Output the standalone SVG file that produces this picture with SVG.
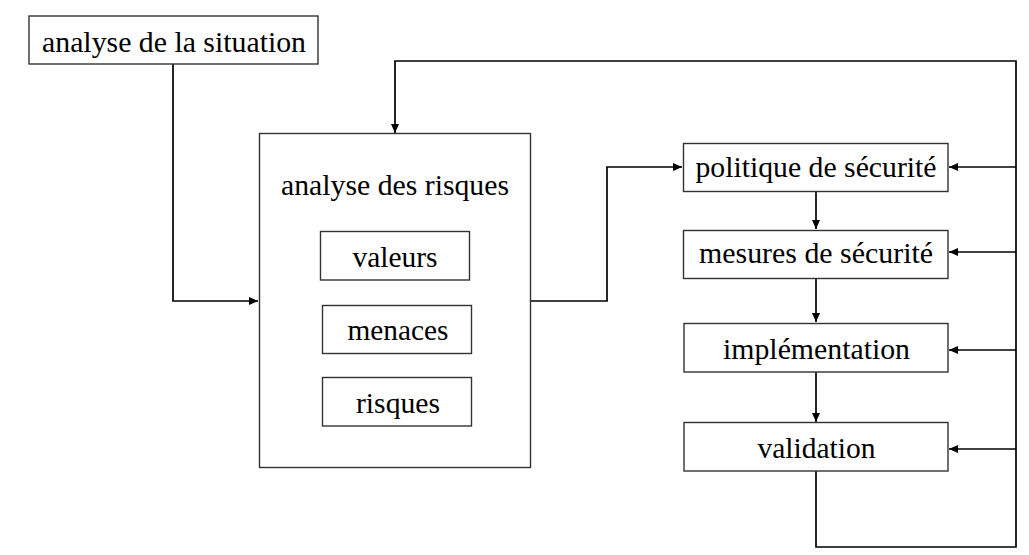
<svg xmlns="http://www.w3.org/2000/svg" width="1029" height="555" viewBox="0 0 1029 555">
<style>
.box{fill:#fff;stroke:#333;stroke-width:1.4}
.lbl{font-family:"Liberation Serif","Times New Roman",serif;font-size:30px;fill:#000;text-anchor:middle}
.con{fill:none;stroke:#000;stroke-width:1.7}
</style>
<defs>
<marker id="arr" markerUnits="userSpaceOnUse" markerWidth="9" markerHeight="8" refX="9" refY="4" orient="auto">
<path d="M0,0 L9,4 L0,8 z" fill="#000"/>
</marker>
</defs>
<rect width="1029" height="555" fill="#fff"/>
<g id="connectors">
<path class="con" d="M173,64 V301 H258" marker-end="url(#arr)"/>
<path class="con" d="M531,301 H607 V167 H682" marker-end="url(#arr)"/>
<path class="con" d="M816,191 V229" marker-end="url(#arr)"/>
<path class="con" d="M816,278 V322" marker-end="url(#arr)"/>
<path class="con" d="M816,372 V422" marker-end="url(#arr)"/>
<path class="con" d="M816,471 V547 H1016 V61 H395 V133" marker-end="url(#arr)"/>
<path class="con" d="M1016,167 H949" marker-end="url(#arr)"/>
<path class="con" d="M1016,252 H949" marker-end="url(#arr)"/>
<path class="con" d="M1016,350 H949" marker-end="url(#arr)"/>
<path class="con" d="M1016,449 H949" marker-end="url(#arr)"/>
</g>
<g id="situation">
<rect class="box" x="29" y="16" width="289" height="48"/>
<text class="lbl" x="174" y="51.5" textLength="264" lengthAdjust="spacingAndGlyphs">analyse de la situation</text>
</g>
<g id="risques-analyse">
<rect class="box" x="259.5" y="133.5" width="271" height="334"/>
<text class="lbl" x="395" y="195" textLength="228" lengthAdjust="spacingAndGlyphs">analyse des risques</text>
</g>
<g id="valeurs">
<rect class="box" x="320.5" y="231.5" width="149" height="48.5"/>
<text class="lbl" x="395" y="266.5" textLength="85" lengthAdjust="spacingAndGlyphs">valeurs</text>
</g>
<g id="menaces">
<rect class="box" x="322.5" y="305.5" width="149" height="48"/>
<text class="lbl" x="398" y="340" textLength="101" lengthAdjust="spacingAndGlyphs">menaces</text>
</g>
<g id="risques">
<rect class="box" x="322.5" y="377.5" width="149" height="48.5"/>
<text class="lbl" x="398" y="412.5" textLength="84" lengthAdjust="spacingAndGlyphs">risques</text>
</g>
<g id="politique">
<rect class="box" x="683.5" y="143.5" width="264.5" height="48"/>
<text class="lbl" x="816" y="177" textLength="241" lengthAdjust="spacingAndGlyphs">politique de sécurité</text>
</g>
<g id="mesures">
<rect class="box" x="683.5" y="230.5" width="264.5" height="48"/>
<text class="lbl" x="816" y="263" textLength="234" lengthAdjust="spacingAndGlyphs">mesures de sécurité</text>
</g>
<g id="implementation">
<rect class="box" x="684" y="323.5" width="264" height="48.5"/>
<text class="lbl" x="816.5" y="359" textLength="187" lengthAdjust="spacingAndGlyphs">implémentation</text>
</g>
<g id="validation">
<rect class="box" x="684" y="422.5" width="264" height="48.5"/>
<text class="lbl" x="816.5" y="458" textLength="118" lengthAdjust="spacingAndGlyphs">validation</text>
</g>
</svg>
